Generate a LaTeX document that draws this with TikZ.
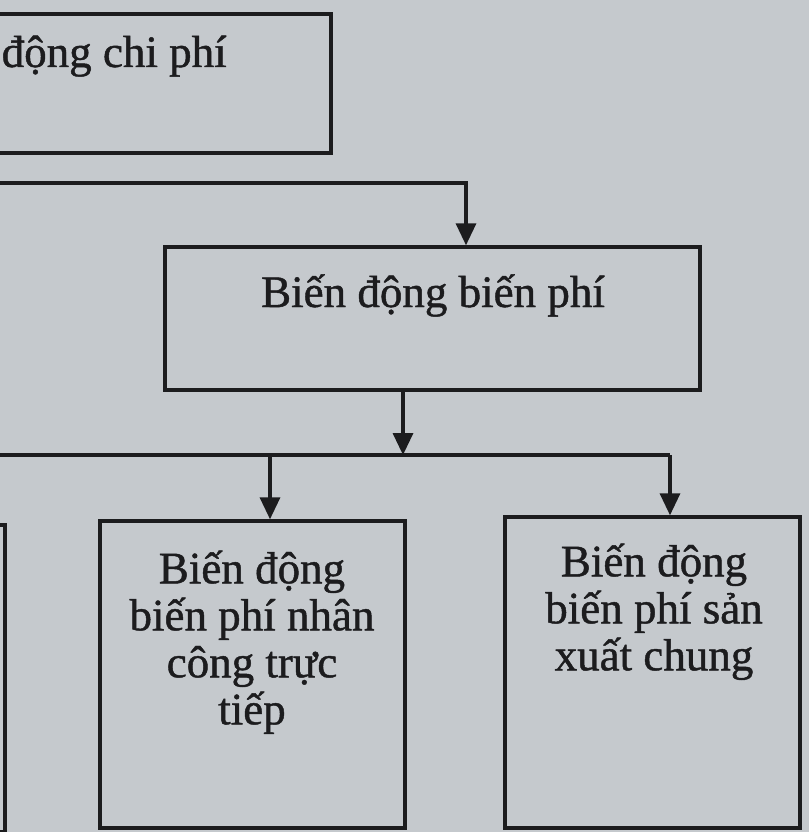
\documentclass[tikz,border=0pt]{standalone}
\usepackage{fontspec}
\setmainfont{Liberation Serif}
\newfontfamily\scanfont{Liberation Serif}[FakeBold=1]
\usetikzlibrary{arrows.meta,positioning}
\definecolor{paper}{RGB}{197,201,205}
\definecolor{ink}{RGB}{28,28,30}

\begin{document}
\begin{tikzpicture}[x=1pt, y=-1pt, >={Triangle[length=22pt,width=20pt]},
    line width=3.4pt, draw=ink,
    box/.style={rectangle, draw=ink, inner sep=0pt},
    txt/.style={align=center, inner sep=0pt, text=ink, font=\scanfont\fontsize{45}{47}\selectfont}]
    \useasboundingbox[fill=paper] (0,0) rectangle (809,832);
    \clip (0,0) rectangle (809,832);

    % boxes
    \node[box, minimum width=600pt, minimum height=139pt] (cp) at (31,83.5) {};
    \node[box, minimum width=535pt, minimum height=143pt] (bp) at (432.5,318.5) {};
    \node[box, minimum width=310pt, minimum height=307pt] (vl) at (-150,678.5) {};
    \node[box, minimum width=305pt, minimum height=307pt] (nc) at (252.5,674.5) {};
    \node[box, minimum width=295pt, minimum height=311pt] (sx) at (652.5,672.5) {};

    % texts
    \node[txt, anchor=base west] (cptxt) at (0,67) {động chi phí};
    \node[txt, anchor=base] (bptxt) at (433,307) {Biến động biến phí};
    \node[txt, anchor=north] (nctxt) at (252,549) {Biến động\\biến phí nhân\\công trực\\tiếp};
    \node[txt, anchor=north] (sxtxt) at (654,542) {Biến động\\biến phí sản\\xuất chung};

    % connectors
    \coordinate (c0) at (-10,183);
    \coordinate (c1) at (466,183);
    \draw[->] (c0) -- (c1) -- (c1 |- bp.north);

    \coordinate (c2) at (403,390);
    \coordinate (c3) at (403,455);
    \draw[->] (c2) -- (c3);
    \coordinate (c4) at (-10,455);
    \coordinate (c5) at (670,455);
    \draw (c4) -- (c5);
    \draw[->] (c5) -- (c5 |- sx.north);
    \coordinate (c6) at (270,455);
    \draw[->] (c6) -- (c6 |- nc.north);
\end{tikzpicture}
\end{document}
